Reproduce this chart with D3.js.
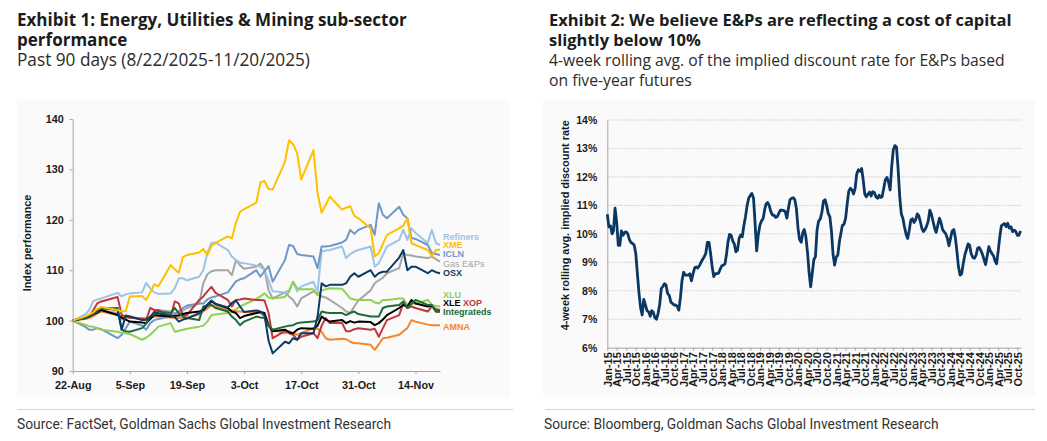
<!DOCTYPE html>
<html>
<head>
<meta charset="utf-8">
<script src="https://cdn.jsdelivr.net/npm/d3@7"></script>
<style>
body { margin: 0; background: #fff; }
.title { font-family: "Open Sans", sans-serif; font-weight: 700; font-size: 17px; fill: #1c1c1c; }
.sub { font-family: "Open Sans", sans-serif; font-size: 15.5px; fill: #2b2b2b; }
.src { font-family: Roboto, sans-serif; font-size: 13.8px; fill: #333; }
.chart text { font-family: "Liberation Sans", Arial, sans-serif; font-weight: 700; fill: #1a1a1a; }
</style>
</head>
<body>
<svg id="page" width="1047" height="441"></svg>
<script>
// ---- Exhibit 1 data: index performance, trading days 22-Aug to 20-Nov 2025
var perfDates = ["2025-08-22","2025-08-25","2025-08-26","2025-08-27","2025-08-28","2025-08-29",
  "2025-09-02","2025-09-03","2025-09-04","2025-09-05",
  "2025-09-08","2025-09-09","2025-09-10","2025-09-11","2025-09-12",
  "2025-09-15","2025-09-16","2025-09-17","2025-09-18","2025-09-19",
  "2025-09-22","2025-09-23","2025-09-24","2025-09-25","2025-09-26",
  "2025-09-29","2025-09-30","2025-10-01","2025-10-02","2025-10-03",
  "2025-10-06","2025-10-07","2025-10-08","2025-10-09","2025-10-10",
  "2025-10-13","2025-10-14","2025-10-15","2025-10-16","2025-10-17",
  "2025-10-20","2025-10-21","2025-10-22","2025-10-23","2025-10-24",
  "2025-10-27","2025-10-28","2025-10-29","2025-10-30","2025-10-31",
  "2025-11-03","2025-11-04","2025-11-05","2025-11-06","2025-11-07",
  "2025-11-10","2025-11-11","2025-11-12","2025-11-13","2025-11-14",
  "2025-11-17","2025-11-18","2025-11-19","2025-11-20"]

var refiners = [100,101.2,102.0,103.8,104.2,104.4, 105.5,104.8,105.2,105.4, 105.6,107.5,106.4,105.6,105.3, 105.4,106.4,108.4,108.4,108.0, 108.7,110.0,113.5,115.4,115.5, 114.0,112.7,112.0,111.5,111.4, 110.9,110.7,110.0,108.0,105.8, 105.6,106.0,107.7,105.8,106.8, 107.7,105.8,113.7,113.9,114.0, 114.7,112.4,113.2,113.7,114.0, 114.7,110.7,111.4,113.0,114.7, 116.0,118.0,116.0,118.3,117.4, 115.4,118.0,115.4,115.0]
var xme = [100,100.8,101.2,101.6,102.3,102.7, 102.1,101.8,101.9,104.8, 104.9,104.1,105.6,107.2,106.8, 111.0,110.2,109.5,112.6,113.0, 113.5,114.2,113.0,114.8,115.4, 116.7,116.3,119.4,121.6,122.1, 123.4,127.4,127.7,126.1,126.0, 131.5,135.8,135.0,133.2,128.0, 133.8,125.3,121.4,123.0,124.6, 122.0,122.4,122.7,120.8,120.3, 118.3,112.7,113.4,115.2,117.0, 118.3,118.8,120.3,115.4,115.0, 114.0,112.8,114.0,114.1]
var icln = [100,98.8,98.2,98.2,98.5,98.3, 96.5,97.2,98.5,99.8, 99.0,98.2,99.5,100.1,100.3, 100.8,101.3,101.8,102.5,103.0, 103.4,103.4,104.2,104.6,104.8, 105.6,106.7,107.8,108.2,108.4, 110.0,108.7,109.8,110.8,107.7, 112.0,115.0,114.8,113.2,113.0, 112.7,110.4,114.7,114.7,114.8, 115.5,116.0,118.0,117.2,118.0, 119.0,117.0,123.3,121.0,120.3, 122.6,121.0,120.3,116.4,116.2, 115.0,113.4,113.2,113.0]
var gasEps = [100,100.6,101.0,101.4,101.8,102.0, 101.5,100.2,100.6,100.8, 100.3,100.0,100.8,101.8,102.1, 101.8,101.5,101.3,102.0,102.5, 103.4,107.4,109.2,109.8,110.0, 110.0,109.0,112.0,111.0,110.3, 110.7,111.3,110.1,106.0,104.4, 105.6,104.8,104.1,102.8,104.4, 105.8,105.4,104.8,104.6,104.1, 102.5,101.8,101.5,102.8,104.0, 106.0,107.4,108.0,108.5,109.4, 110.4,113.4,113.0,112.9,112.7, 112.4,112.7,112.2,111.7]
var osx = [100,100.6,101.0,101.5,102.0,102.5, 102.1,98.2,101.0,100.8, 100.1,100.2,100.7,101.7,101.4, 101.0,100.7,99.8,100.2,100.4, 101.5,102.3,103.2,104.0,103.3, 102.6,103.5,104.0,102.8,101.7, 102.0,101.8,101.1,96.0,93.5, 95.8,95.5,96.5,96.2,97.5, 97.5,100.8,107.4,106.8,107.1, 107.1,107.4,108.7,109.4,108.7, 110.0,108.7,109.4,109.7,109.7, 112.5,114.0,110.0,110.7,110.7, 109.4,110.0,109.6,109.4]
var xlu = [100,99.2,98.9,98.8,98.5,98.2, 97.8,97.6,97.5,97.3, 96.2,96.6,97.2,98.0,98.8, 99.5,97.8,98.0,98.2,98.4, 98.8,99.0,99.8,101.1,101.2, 101.5,101.8,102.2,102.8,103.2, 104.3,104.8,105.4,104.6,104.4, 104.7,105.7,107.7,106.4,106.2, 106.2,105.0,106.0,106.2,106.4, 106.3,105.4,104.4,104.2,104.1, 104.1,103.6,103.4,104.1,104.1, 104.4,104.4,103.1,103.4,103.4, 104.1,103.1,102.9,102.8]
var xle = [100,100.5,100.8,101.2,101.6,102.1, 101.1,100.6,100.2,99.8, 99.6,99.5,100.3,101.1,101.0, 100.8,100.9,101.0,101.3,101.5, 101.8,102.1,103.0,103.8,103.3, 102.5,101.8,101.5,100.5,100.9, 101.5,101.7,101.5,99.0,97.9, 98.2,97.7,97.5,98.2,98.5, 98.4,99.0,100.8,100.2,99.8, 100.1,99.5,99.9,99.6,99.8, 99.7,99.1,99.5,100.2,101.1, 102.5,103.1,102.8,104.1,103.4, 102.8,103.0,101.8,101.8]
var xop = [100,100.5,100.8,102.0,103.4,103.8, 104.7,101.1,100.8,100.6, 100.3,100.1,102.5,102.1,102.1, 100.8,103.8,103.4,101.0,101.1, 104.1,104.8,105.8,106.7,105.5, 104.1,102.8,104.1,104.2,104.4, 104.1,104.1,104.0,101.5,96.5, 97.9,97.5,97.2,96.2,96.8, 97.5,96.5,99.0,100.5,99.5, 99.5,97.9,97.9,98.3,98.5, 98.2,98.4,96.8,98.5,100.1, 101.1,103.4,102.5,102.8,102.5, 101.8,102.8,102.3,102.1]
var integrateds = [100,100.4,100.8,101.3,101.8,102.4, 102.5,98.2,97.9,97.8, 98.5,99.4,100.8,101.2,101.8, 101.5,102.5,101.5,100.8,100.5, 100.1,102.8,103.0,103.1,102.5, 101.8,100.8,100.1,99.1,99.8, 100.8,100.6,100.5,99.0,98.2, 98.8,99.0,99.1,99.5,99.6, 99.8,100.1,101.8,101.6,101.5, 101.5,101.1,101.5,101.8,101.3, 100.8,100.8,100.8,102.5,102.8, 103.1,103.8,102.5,103.3,104.1, 103.1,103.1,101.8,101.8]
var amna = [100,100.3,100.5,100.9,101.4,101.8, 101.1,100.8,100.6,100.5, 100.5,100.5,100.6,100.8,100.8, 100.6,100.5,100.5,100.6,100.6, 101.2,101.8,102.4,103.1,102.8, 102.1,102.0,101.8,101.8,101.7, 101.6,101.5,100.8,99.0,98.2, 97.5,97.9,97.4,97.2,97.5, 98.5,98.4,97.8,96.5,96.2, 96.4,96.3,95.8,95.5,95.5, 95.2,94.2,95.3,96.5,96.6, 97.2,97.9,98.5,100.1,99.8, 99.2,99.1,99.1,99.1]

var perfTicks = ["2025-08-22","2025-09-05","2025-09-19","2025-10-03","2025-10-17","2025-10-31","2025-11-14"]
var perfYTicks = [90,100,110,120,130,140]

// ---- Exhibit 2 data: implied discount rate (%), semi-monthly
var rateDates = [
  "2015-01-01","2015-01-16","2015-02-01","2015-02-16","2015-03-01","2015-03-16","2015-04-01","2015-04-16","2015-05-01","2015-05-16","2015-06-01","2015-06-16","2015-07-01","2015-07-16","2015-08-01","2015-08-16","2015-09-01","2015-09-16","2015-10-01","2015-10-16","2015-11-01","2015-11-16","2015-12-01","2015-12-16",
  "2016-01-01","2016-01-16","2016-02-01","2016-02-16","2016-03-01","2016-03-16","2016-04-01","2016-04-16","2016-05-01","2016-05-16","2016-06-01","2016-06-16","2016-07-01","2016-07-16","2016-08-01","2016-08-16","2016-09-01","2016-09-16","2016-10-01","2016-10-16","2016-11-01","2016-11-16","2016-12-01","2016-12-16",
  "2017-01-01","2017-01-16","2017-02-01","2017-02-16","2017-03-01","2017-03-16","2017-04-01","2017-04-16","2017-05-01","2017-05-16","2017-06-01","2017-06-16","2017-07-01","2017-07-16","2017-08-01","2017-08-16","2017-09-01","2017-09-16","2017-10-01","2017-10-16","2017-11-01","2017-11-16","2017-12-01","2017-12-16",
  "2018-01-01","2018-01-16","2018-02-01","2018-02-16","2018-03-01","2018-03-16","2018-04-01","2018-04-16","2018-05-01","2018-05-16","2018-06-01","2018-06-16","2018-07-01","2018-07-16","2018-08-01","2018-08-16","2018-09-01","2018-09-16","2018-10-01","2018-10-16","2018-11-01","2018-11-16","2018-12-01","2018-12-16",
  "2019-01-01","2019-01-16","2019-02-01","2019-02-16","2019-03-01","2019-03-16","2019-04-01","2019-04-16","2019-05-01","2019-05-16","2019-06-01","2019-06-16","2019-07-01","2019-07-16","2019-08-01","2019-08-16","2019-09-01","2019-09-16","2019-10-01","2019-10-16","2019-11-01","2019-11-16","2019-12-01","2019-12-16",
  "2020-01-01","2020-01-16","2020-02-01","2020-02-16","2020-03-01","2020-03-16","2020-04-01","2020-04-16","2020-05-01","2020-05-16","2020-06-01","2020-06-16","2020-07-01","2020-07-16","2020-08-01","2020-08-16","2020-09-01","2020-09-16","2020-10-01","2020-10-16","2020-11-01","2020-11-16","2020-12-01","2020-12-16",
  "2021-01-01","2021-01-16","2021-02-01","2021-02-16","2021-03-01","2021-03-16","2021-04-01","2021-04-16","2021-05-01","2021-05-16","2021-06-01","2021-06-16","2021-07-01","2021-07-16","2021-08-01","2021-08-16","2021-09-01","2021-09-16","2021-10-01","2021-10-16","2021-11-01","2021-11-16","2021-12-01","2021-12-16",
  "2022-01-01","2022-01-16","2022-02-01","2022-02-16","2022-03-01","2022-03-16","2022-04-01","2022-04-16","2022-05-01","2022-05-16","2022-06-01","2022-06-16","2022-07-01","2022-07-16","2022-08-01","2022-08-16","2022-09-01","2022-09-16","2022-10-01","2022-10-16","2022-11-01","2022-11-16","2022-12-01","2022-12-16",
  "2023-01-01","2023-01-16","2023-02-01","2023-02-16","2023-03-01","2023-03-16","2023-04-01","2023-04-16","2023-05-01","2023-05-16","2023-06-01","2023-06-16","2023-07-01","2023-07-16","2023-08-01","2023-08-16","2023-09-01","2023-09-16","2023-10-01","2023-10-16","2023-11-01","2023-11-16","2023-12-01","2023-12-16",
  "2024-01-01","2024-01-16","2024-02-01","2024-02-16","2024-03-01","2024-03-16","2024-04-01","2024-04-16","2024-05-01","2024-05-16","2024-06-01","2024-06-16","2024-07-01","2024-07-16","2024-08-01","2024-08-16","2024-09-01","2024-09-16","2024-10-01","2024-10-16","2024-11-01","2024-11-16","2024-12-01","2024-12-16",
  "2025-01-01","2025-01-16","2025-02-01","2025-02-16","2025-03-01","2025-03-16","2025-04-01","2025-04-16","2025-05-01","2025-05-16","2025-06-01","2025-06-16","2025-07-01","2025-07-16","2025-08-01","2025-08-16","2025-09-01","2025-09-16","2025-10-01","2025-10-16","2025-11-01"]
var rateValues = [
  10.69,10.25,10.28,10.0,10.1,10.9,10.4,9.6,9.6,10.1,9.95,10.05,10.07,10.0,9.8,9.69,9.66,9.6,9.3,8.6,7.9,7.4,7.15,7.7,
  7.5,7.3,7.26,7.1,7.3,7.25,7.05,7.0,7.2,7.5,8.08,8.15,8.25,8.2,7.9,7.84,7.6,7.55,7.5,7.5,7.45,7.32,7.75,8.35,
  8.65,8.55,8.55,8.55,8.6,8.35,8.6,8.8,8.84,8.8,8.88,9.0,9.1,9.19,9.31,9.7,9.7,9.3,8.84,8.5,8.6,8.6,8.62,8.75,
  8.88,8.9,8.95,9.3,9.7,9.98,9.95,9.75,9.65,9.37,9.43,9.84,9.96,9.9,10.3,10.6,11.0,11.25,11.35,11.42,11.25,10.37,9.4,9.95,
  10.3,10.45,10.54,10.85,11.05,11.1,10.98,10.78,10.66,10.66,10.58,10.6,10.72,10.83,10.83,10.82,10.78,10.55,10.9,11.2,11.25,11.27,11.2,10.9,
  10.2,9.8,9.7,10.05,10.15,9.9,9.35,8.65,8.14,8.6,9.1,9.2,10.13,10.45,10.52,10.75,11.15,11.2,11.0,10.72,10.6,10.1,9.3,8.9,
  9.18,9.25,9.75,10.05,10.3,10.33,10.55,11.05,11.5,11.6,11.54,11.4,11.6,12.1,12.25,12.2,12.3,11.9,11.4,11.3,11.4,11.47,11.33,11.48,
  11.45,11.3,11.25,11.36,11.28,11.3,11.6,11.9,11.98,11.83,11.54,12.36,12.95,13.1,13.05,12.3,11.3,10.7,10.55,10.25,9.98,9.84,10.13,10.48,
  10.53,10.4,10.5,10.7,10.65,10.45,10.19,10.08,10.15,10.27,10.45,10.83,10.7,10.45,10.2,10.05,10.31,10.55,10.4,10.15,10.07,10.0,9.84,9.58,
  9.85,10.1,10.15,9.85,9.4,8.85,8.55,8.6,8.96,9.25,9.45,9.65,9.6,9.3,9.17,9.14,9.25,9.5,9.52,9.42,9.28,9.1,8.92,9.22,
  9.55,9.4,9.3,9.22,9.05,8.95,9.4,9.9,10.28,10.33,10.36,10.25,10.37,10.2,10.25,10.08,10.13,10.08,9.95,9.95,10.1]
var rateYTicks = [6,7,8,9,10,11,12,13,14]

var parse = d3.timeParse("%Y-%m-%d")
var svg = d3.select("#page")

// scale a text's font so that it spans the given width
function fitText(sel, width) {
    var node = sel.node()
    var fs = parseFloat(getComputedStyle(node).fontSize)
    var size = fs * width / node.getComputedTextLength()
    sel.style("font-size", size + "px")
    return size
}

// ---------------- headers and footers
function header(x, lines, subs, titleWidth, subWidth) {
    var t = lines.map(function(s, i) {
        return svg.append("text").attr("class", "title").attr("x", x).attr("y", 26 + i*20).text(s)
    })
    var size = fitText(t[0], titleWidth)
    t.forEach(function(el) { el.style("font-size", size + "px") })
    var s = subs.map(function(txt, i) {
        return svg.append("text").attr("class", "sub").attr("x", x).attr("y", 26 + lines.length*20 + i*20).text(txt)
    })
    var ssize = fitText(s[0], subWidth)
    s.forEach(function(el) { el.style("font-size", ssize + "px") })
}
header(17, ["Exhibit 1: Energy, Utilities & Mining sub-sector", "performance"], ["Past 90 days (8/22/2025-11/20/2025)"], 390, 293)
header(549, ["Exhibit 2: We believe E&Ps are reflecting a cost of capital", "slightly below 10%"],
    ["4-week rolling avg. of the implied discount rate for E&Ps based", "on five-year futures"], 463, 456)

// chart backgrounds
svg.append("rect").attr("x", 17).attr("y", 100).attr("width", 493).attr("height", 297).attr("fill", "#fafafa")
svg.append("rect").attr("x", 543).attr("y", 100).attr("width", 492).attr("height", 297).attr("fill", "#fafafa")

svg.append("line").attr("x1", 17).attr("x2", 513).attr("y1", 409.5).attr("y2", 409.5).attr("stroke", "#d4d4d4")
svg.append("line").attr("x1", 545).attr("x2", 1035).attr("y1", 409.5).attr("y2", 409.5).attr("stroke", "#d4d4d4")
svg.append("text").attr("class", "src").attr("x", 17).attr("y", 429).text("Source: FactSet, Goldman Sachs Global Investment Research")
svg.append("text").attr("class", "src").attr("x", 544).attr("y", 429).text("Source: Bloomberg, Goldman Sachs Global Investment Research")

// ---------------- Exhibit 1
var left = svg.append("g").attr("class", "chart")
var lx = d3.scaleTime().domain([parse("2025-08-22"), parse("2025-11-20")]).range([72.7, 440])
var ly = d3.scaleLinear().domain([90, 140]).range([371, 119])

var series = [
    {name: "Gas E&Ps", values: gasEps, color: "#a5a5a5", label: 111.2, bold: false},
    {name: "Refiners", values: refiners, color: "#9dc3e6", label: 116.5, bold: true},
    {name: "ICLN", values: icln, color: "#7097c8", label: 113.0, bold: true},
    {name: "XLU", values: xlu, color: "#92d050", label: 104.9, bold: true},
    {name: "AMNA", values: amna, color: "#f5862a", label: 98.6, bold: true},
    {name: "XOP", values: xop, color: "#c0373c", label: null},
    {name: "XLE", values: xle, color: "#000000", label: null},
    {name: "Integrateds", values: integrateds, color: "#1e6a38", label: 101.5, bold: true},
    {name: "OSX", values: osx, color: "#0c3a66", label: 109.4, bold: true},
    {name: "XME", values: xme, color: "#ffc000", label: 114.8, bold: true}
]

var lineL = d3.line()
    .x(function(d) { return lx(d.date) })
    .y(function(d) { return ly(d.v) })

series.forEach(function(s) {
    var pts = perfDates.map(function(d, i) { return {date: parse(d), v: s.values[i]} })
    left.append("path").datum(pts)
        .attr("d", lineL)
        .attr("fill", "none")
        .attr("stroke", s.color)
        .attr("stroke-width", 2)
        .attr("stroke-linejoin", "round")
})

var yAxisL = left.append("g").attr("transform", "translate(" + lx.range()[0] + ",0)")
    .call(d3.axisLeft(ly).tickValues(perfYTicks).tickSize(3).tickSizeOuter(0).tickPadding(6))
var xAxisL = left.append("g").attr("transform", "translate(0," + ly.range()[0] + ")")
    .call(d3.axisBottom(lx).tickValues(perfTicks.map(parse)).tickFormat(d3.timeFormat("%-d-%b")).tickSize(3).tickSizeOuter(0).tickPadding(7))
left.selectAll(".domain, .tick line").attr("stroke", "#a6a6a6")
left.selectAll(".tick text").style("font-size", "10.8px")

left.append("text")
    .attr("transform", "translate(28.5," + (ly(115) - 2) + ") rotate(-90)")
    .attr("text-anchor", "middle")
    .attr("dominant-baseline", "middle")
    .style("font-size", "10.8px")
    .text("Index performance")

// end labels
var labelX = lx.range()[1] + 3
series.forEach(function(s) {
    if (s.label === null) return
    left.append("text")
        .attr("x", labelX)
        .attr("y", ly(s.label))
        .attr("dominant-baseline", "middle")
        .style("font-size", "9px")
        .style("font-weight", s.bold ? 700 : 400)
        .style("fill", s.color)
        .text(s.name)
})
var xleLabel = left.append("text")
    .attr("x", labelX)
    .attr("y", ly(103.3))
    .attr("dominant-baseline", "middle")
    .style("font-size", "9px")
xleLabel.append("tspan").style("fill", "#000").text("XLE ")
xleLabel.append("tspan").style("fill", "#c0373c").text("XOP")

// ---------------- Exhibit 2
var right = svg.append("g").attr("class", "chart")
var rx = d3.scaleTime().domain([parse("2015-01-01"), parse("2025-11-05")]).range([607.3, 1021])
var ry = d3.scaleLinear().domain([6, 14]).range([347.7, 120])

right.append("g").selectAll("line")
    .data(rateYTicks.slice(1))
    .enter()
    .append("line")
    .attr("x1", rx.range()[0])
    .attr("x2", rx.range()[1])
    .attr("y1", function(d) { return ry(d) })
    .attr("y2", function(d) { return ry(d) })
    .attr("stroke", "#c3c8d2")
    .attr("stroke-width", 1)
    .attr("stroke-dasharray", "1.2,1.2")

var xAxisR = right.append("g").attr("transform", "translate(0," + ry.range()[0] + ")")
    .call(d3.axisBottom(rx).ticks(d3.timeMonth.every(3)).tickFormat(d3.timeFormat("%b-%y")).tickSize(3).tickSizeOuter(0))
xAxisR.selectAll("text")
    .attr("transform", "rotate(-90)")
    .attr("text-anchor", "end")
    .attr("x", -4.5)
    .attr("y", 0)
    .attr("dy", "0.35em")
    .style("font-size", "11px")

var yAxisR = right.append("g").attr("transform", "translate(" + rx.range()[0] + ",0)")
    .call(d3.axisLeft(ry).tickValues(rateYTicks).tickFormat(function(d) { return d + "%" }).tickSize(0).tickPadding(10))
yAxisR.selectAll("text").style("font-size", "10.5px")
right.selectAll(".domain, .tick line").attr("stroke", "#a6a6a6")

right.append("text")
    .attr("transform", "translate(566.5," + ry(10.3) + ") rotate(-90)")
    .attr("text-anchor", "middle")
    .attr("dominant-baseline", "middle")
    .style("font-size", "10.9px")
    .text("4-week rolling avg. implied discount rate")

var ratePts = rateDates.map(function(d, i) { return {date: parse(d), v: rateValues[i]} })
right.append("path").datum(ratePts)
    .attr("d", d3.line().x(function(d) { return rx(d.date) }).y(function(d) { return ry(d.v) }))
    .attr("fill", "none")
    .attr("stroke", "#0b3763")
    .attr("stroke-width", 2.8)
    .attr("stroke-linejoin", "round")
</script>
</body>
</html>
